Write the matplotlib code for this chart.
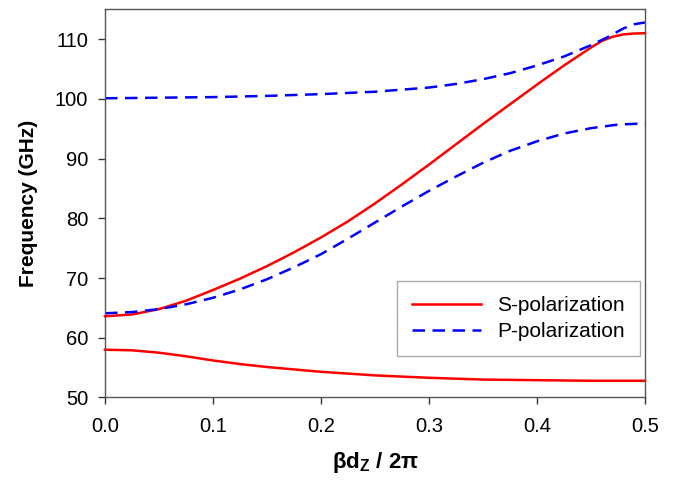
import matplotlib
matplotlib.use("Agg")
import matplotlib.pyplot as plt

plt.rcParams['font.family'] = ['Liberation Sans', 'DejaVu Sans']
plt.rcParams['mathtext.fontset'] = 'custom'
plt.rcParams['mathtext.rm'] = 'Liberation Sans:bold'
plt.rcParams['mathtext.bf'] = 'Liberation Sans:bold'

# Данные
x_s_low = [0.0, 0.025, 0.05, 0.075, 0.1, 0.125, 0.15, 0.175, 0.2, 0.25, 0.3, 0.35, 0.4, 0.45, 0.5]
s_low = [58.0, 57.9, 57.5, 56.9, 56.2, 55.6, 55.1, 54.7, 54.3, 53.7, 53.3, 53.0, 52.9, 52.8, 52.8]

x_s_up = [0.0, 0.025, 0.05, 0.075, 0.1, 0.125, 0.15, 0.175, 0.2, 0.225, 0.25, 0.275, 0.3,
          0.325, 0.35, 0.375, 0.4, 0.425, 0.45, 0.46, 0.47, 0.48, 0.49, 0.5]
s_up = [63.6, 63.9, 64.8, 66.2, 68.0, 69.9, 72.0, 74.3, 76.8, 79.5, 82.5, 85.7, 89.0,
        92.4, 95.8, 99.1, 102.4, 105.6, 108.6, 109.7, 110.4, 110.8, 110.95, 111.0]

x_p_low = [0.0, 0.025, 0.05, 0.075, 0.1, 0.125, 0.15, 0.175, 0.2, 0.225, 0.25, 0.275, 0.3,
           0.325, 0.35, 0.375, 0.4, 0.425, 0.45, 0.475, 0.5]
p_low = [64.1, 64.3, 64.8, 65.6, 66.7, 68.1, 69.8, 71.8, 74.0, 76.6, 79.3, 82.0, 84.6,
         87.0, 89.3, 91.3, 92.9, 94.2, 95.1, 95.7, 95.9]

x_p_up = [0.0, 0.05, 0.1, 0.15, 0.2, 0.25, 0.3, 0.325, 0.35, 0.375, 0.4, 0.425, 0.45,
          0.465, 0.48, 0.49, 0.5]
p_up = [100.1, 100.2, 100.3, 100.5, 100.8, 101.2, 101.9, 102.5, 103.3, 104.3, 105.6, 107.1,
        109.0, 110.3, 111.8, 112.5, 112.8]

red = '#ff0000'
blue = '#0000ff'

fig = plt.figure(figsize=(6.74, 4.8), dpi=100)
ax = fig.add_axes([0.1558, 0.1719, 0.8012, 0.8087])

ax.plot(x_s_up, s_up, color=red, lw=1.8, label='S-polarization', clip_on=False)
ax.plot(x_s_low, s_low, color=red, lw=1.8, clip_on=False)
ax.plot(x_p_up, p_up, color=blue, lw=1.8, dashes=(5, 3), label='P-polarization', clip_on=False)
ax.plot(x_p_low, p_low, color=blue, lw=1.8, dashes=(5, 3), clip_on=False)

ax.set_xlim(0, 0.5)
ax.set_ylim(50, 115)
ax.set_xticks([0.0, 0.1, 0.2, 0.3, 0.4, 0.5])
ax.set_xticklabels(['0.0', '0.1', '0.2', '0.3', '0.4', '0.5'])
ax.set_yticks([50, 60, 70, 80, 90, 100, 110])
ax.tick_params(direction='out', length=5, width=1, labelsize=14.5, color='#333333')
ax.tick_params(axis='x', pad=9)
ax.tick_params(axis='y', pad=7)

for s in ax.spines.values():
    s.set_color('#555555')
    s.set_linewidth(1.0)

ax.set_ylabel('Frequency (GHz)', fontsize=15, fontweight='bold', labelpad=12)
ax.set_xlabel(r'βd$_\mathrm{Z}$ / 2π', fontsize=16, fontweight='bold', labelpad=10)

leg = ax.legend(loc='lower right', bbox_to_anchor=(0.99, 0.107), fontsize=15,
                handlelength=3.3, fancybox=False, framealpha=1, borderpad=0.7,
                labelspacing=0.35, borderaxespad=0)
leg.get_frame().set_edgecolor('#aaaaaa')

fig.savefig('out.png', dpi=100)
